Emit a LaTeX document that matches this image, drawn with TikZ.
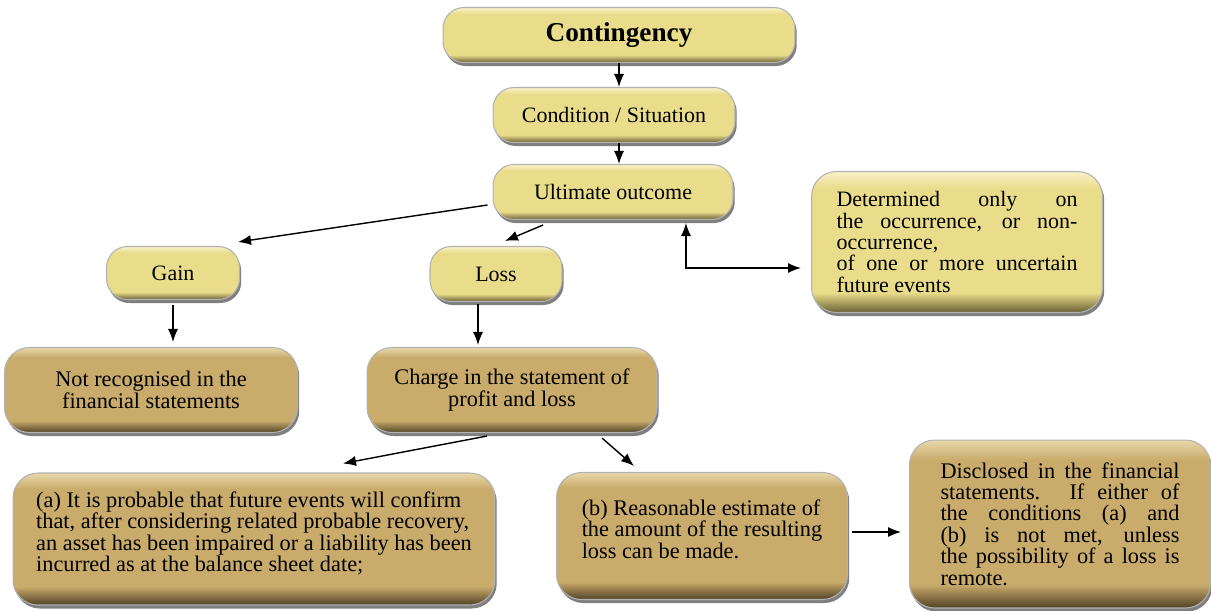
\documentclass[tikz,border=0pt]{standalone}
\usepackage{fontspec}
\setmainfont{Liberation Serif}
\usetikzlibrary{arrows.meta,shadows,calc}
\definecolor{yb_light}{RGB}{248, 242, 200}
\definecolor{yb_fill}{RGB}{233, 220, 138}
\definecolor{yb_dark}{RGB}{105, 95, 52}
\definecolor{tb_light}{RGB}{232, 216, 170}
\definecolor{tb_fill}{RGB}{201, 171, 107}
\definecolor{tb_dark}{RGB}{80, 66, 38}
\pgfdeclareverticalshading{yb_shade}{100bp}{color(0bp)=(yb_dark); color(25bp)=(yb_dark);
  color(32bp)=(yb_fill); color(69bp)=(yb_fill); color(75bp)=(yb_light); color(100bp)=(yb_light)}
\pgfdeclareverticalshading{tb_shade}{100bp}{color(0bp)=(tb_dark); color(25bp)=(tb_dark);
  color(32bp)=(tb_fill); color(69bp)=(tb_fill); color(75bp)=(tb_light); color(100bp)=(tb_light)}
\tikzstyle{yb}=[rounded corners=0.42cm,shading=yb_shade,draw=black!30,line width=0.6pt,
  drop shadow={shadow xshift=1pt,shadow yshift=-2pt,opacity=0.5,fill=black},
  align=center,inner sep=0pt,font=\fontsize{12.5}{12.2}\selectfont]
\tikzstyle{tb}=[rounded corners=0.5cm,shading=tb_shade,draw=black!30,line width=0.6pt,
  drop shadow={shadow xshift=1pt,shadow yshift=-2pt,opacity=0.5,fill=black},
  align=center,inner sep=0pt,font=\fontsize{12.7}{12.2}\selectfont]

\begin{document}
\begin{tikzpicture}[x=0.02cm, y=-0.02cm, >={Latex[length=7.4pt,width=5.8pt]}]
    \useasboundingbox (0,0) rectangle (1211,610);
    \node [style=yb, minimum width=7.04cm, minimum height=1.1cm,
      font=\bfseries\fontsize{15.5}{16}\selectfont] (cont) at (619, 35) {Contingency};
    \node [style=yb, minimum width=4.84cm, minimum height=1.1cm] (cond) at (614, 115) {Condition / Situation};
    \node [style=yb, minimum width=4.8cm, minimum height=1.1cm] (ult) at (613, 192) {Ultimate outcome};
    \node [style=yb, minimum width=2.66cm, minimum height=1.06cm] (gain) at (173, 273) {Gain};
    \node [style=yb, minimum width=2.64cm, minimum height=1.1cm] (loss) at (496, 274) {Loss};
    \node [style=yb, rounded corners=0.5cm, minimum width=5.82cm, minimum height=2.82cm,
      text width=4.82cm, align=justify] (det) at (957, 242)
      {Determined only on\linebreak the occurrence, or non-\linebreak occurrence,\\
       of one or more uncertain\linebreak future events};
    \node [style=tb, minimum width=5.86cm, minimum height=1.7cm] (notrec) at (151, 390)
      {Not recognised in the\\financial statements};
    \node [style=tb, minimum width=5.8cm, minimum height=1.7cm] (chg) at (512, 390)
      {Charge in the statement of\\profit and loss};
    \node [style=tb, minimum width=9.64cm, minimum height=2.64cm, align=left] (conda) at (254, 539)
      {(a) It is probable that future events will confirm\\
       that, after considering related probable recovery,\\
       an asset has been impaired or a liability has been\\
       incurred as at the balance sheet date;\\[-4pt]};
    \node [style=tb, minimum width=5.82cm, minimum height=2.54cm, align=left] (condb) at (702, 536)
      {(b) Reasonable estimate of\\the amount of the resulting\\loss can be made.\\[-4pt]};
    \node [style=tb, minimum width=6.02cm, minimum height=3.36cm, text width=4.78cm,
      align=justify] (disc) at (1060, 524)
      {Disclosed in the financial\linebreak statements. If either of\linebreak
       the conditions (a) and\linebreak (b) is not met, unless\linebreak
       the possibility of a loss is\linebreak remote.};
    \draw [->, line width=0.8pt] (cont.south) to (cont.south |- cond.north);
    \draw [->, line width=0.8pt] (cont.south |- cond.south) to (cont.south |- ult.north);
    \draw [->, line width=0.8pt] ($(ult.west)+(-5, 13)$) to ($(gain.north east)+(-2, -4)$);
    \draw [->, line width=0.8pt] ($(ult.south)+(-70, 5)$) to ($(loss.north)+(9, -5)$);
    \draw [<->, line width=0.8pt] ($(ult.south)+(73, 3)$) |- ($(det.west)+(-10, 26)$);
    \draw [->, line width=0.8pt] ($(gain.south)+(0, 5)$) to ($(notrec.north)+(22, -5)$);
    \draw [->, line width=0.8pt] ($(loss.south)+(-18, 2)$) to ($(chg.north)+(-34, -2)$);
    \draw [->, line width=0.8pt] ($(chg.south)+(-25, 3)$) to ($(conda.north)+(89, -9)$);
    \draw [->, line width=0.8pt] ($(chg.south)+(90, 5)$) to ($(condb.north)+(-68, -6)$);
    \draw [->, line width=0.8pt] ($(condb.east)+(4, -4)$) to ($(disc.west)+(-8, 8)$);
\end{tikzpicture}
\end{document}
